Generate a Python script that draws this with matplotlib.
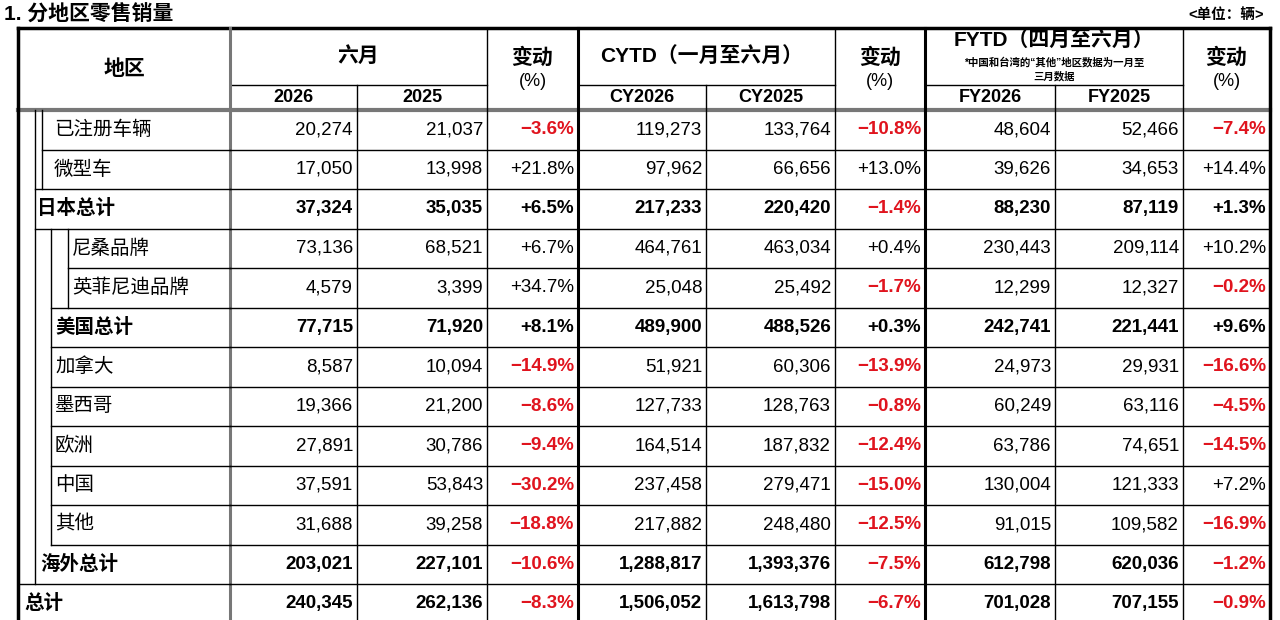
import matplotlib
matplotlib.use("Agg")
import matplotlib.pyplot as plt

plt.rcParams['font.family'] = ['Liberation Sans', 'Noto Sans CJK SC', 'DejaVu Sans']

regions = ["已注册车辆", "微型车", "日本总计", "尼桑品牌", "英菲尼迪品牌", "美国总计",
           "加拿大", "墨西哥", "欧洲", "中国", "其他", "海外总计", "总计"]
jun_2026 = [20274, 17050, 37324, 73136, 4579, 77715, 8587, 19366, 27891, 37591, 31688, 203021, 240345]
jun_2025 = [21037, 13998, 35035, 68521, 3399, 71920, 10094, 21200, 30786, 53843, 39258, 227101, 262136]
jun_chg = [-3.6, 21.8, 6.5, 6.7, 34.7, 8.1, -14.9, -8.6, -9.4, -30.2, -18.8, -10.6, -8.3]
cy_2026 = [119273, 97962, 217233, 464761, 25048, 489900, 51921, 127733, 164514, 237458, 217882, 1288817, 1506052]
cy_2025 = [133764, 66656, 220420, 463034, 25492, 488526, 60306, 128763, 187832, 279471, 248480, 1393376, 1613798]
cy_chg = [-10.8, 13.0, -1.4, 0.4, -1.7, 0.3, -13.9, -0.8, -12.4, -15.0, -12.5, -7.5, -6.7]
fy_2026 = [48604, 39626, 88230, 230443, 12299, 242741, 24973, 60249, 63786, 130004, 91015, 612798, 701028]
fy_2025 = [52466, 34653, 87119, 209114, 12327, 221441, 29931, 63116, 74651, 121333, 109582, 620036, 707155]
fy_chg = [-7.4, 14.4, 1.3, 10.2, -0.2, 9.6, -16.6, -4.5, -14.5, 7.2, -16.9, -1.2, -0.9]
bold_rows = {2, 5, 11, 12}
label_x = [54, 54, 37, 72, 72, 55, 55, 55, 55, 55, 55, 40, 24]

fig = plt.figure(figsize=(12.8, 6.2), dpi=100)
ax = fig.add_axes([0, 0, 1, 1])
ax.set_xlim(0, 1280)
ax.set_ylim(620, 0)
ax.axis('off')

cols = [18, 230, 357, 487, 578, 706, 835, 925, 1055, 1183, 1270]
top, mid, hbot = 28, 85, 110
row_h = 39.5
rows_y = [hbot + i * row_h for i in range(14)]

fs = 13.5
K = dict(color='black', lw=1.0)
ax.plot([cols[0], cols[-1]], [top, top], color='black', lw=2.5)
ax.plot([cols[0], cols[-1]], [hbot, hbot], color='#777777', lw=3)
for c0, c1 in [(cols[1], cols[3]), (cols[4], cols[6]), (cols[7], cols[9])]:
    ax.plot([c0, c1], [mid, mid], **K)
ax.plot([cols[0], cols[0]], [top, 620], color='black', lw=2.5)
ax.plot([cols[-1], cols[-1]], [top, 620], color='black', lw=2.5)
for c in cols[1:-1]:
    if c in (578, 925):
        ax.plot([c, c], [top, 620], color='black', lw=2.2)
    elif c == 230:
        ax.plot([c, c], [top, 620], color='#777777', lw=2.2)
    elif c in (487, 835, 1183):
        ax.plot([c, c], [top, 620], **K)
    else:
        ax.plot([c, c], [mid, 620], **K)

ax.plot([35, 35], [hbot, rows_y[12]], **K)
ax.plot([42, 42], [hbot, rows_y[2]], **K)
ax.plot([51, 51], [rows_y[3], rows_y[11]], **K)
ax.plot([68, 68], [rows_y[3], rows_y[5]], **K)
hstart = {1: 42, 2: 35, 3: 35, 4: 68, 5: 51, 6: 51, 7: 51, 8: 51, 9: 51, 10: 51, 11: 51, 12: 18}
for r, xs in hstart.items():
    ax.plot([xs, cols[1]], [rows_y[r], rows_y[r]], **K)
    ax.plot([cols[1], cols[-1]], [rows_y[r], rows_y[r]], **K)

ax.text(4, 14, "1. 分地区零售销量", fontsize=15, fontweight='bold', va='center', ha='left')
ax.text(1264, 15, "<单位：辆>", fontsize=10.5, fontweight='bold', va='center', ha='right')
hb = dict(fontsize=15, fontweight='bold', va='center', ha='center')
ax.text(124, 69, "地区", **hb)
ax.text(358, 56, "六月", **hb)
ax.text(702, 56, "CYTD（一月至六月）", **hb)
ax.text(1054, 40, "FYTD（四月至六月）", **hb)
ax.text(1054, 62, "*中国和台湾的“其他”地区数据为一月至", fontsize=7.5, fontweight='bold', va='center', ha='center')
ax.text(1054, 76, "三月数据", fontsize=7.5, fontweight='bold', va='center', ha='center')
for c0, c1 in [(487, 578), (835, 925), (1183, 1270)]:
    ax.text((c0 + c1) / 2, 58, "变动", **hb)
    ax.text((c0 + c1) / 2, 82, "(%)", fontsize=13, va='center', ha='center')
for (c0, c1), lab in zip([(230, 357), (357, 487), (578, 706), (706, 835), (925, 1055), (1055, 1183)],
                         ["2026", "2025", "CY2026", "CY2025", "FY2026", "FY2025"]):
    ax.text((c0 + c1) / 2, 98, lab, fontsize=13, fontweight='bold', va='center', ha='center')

def pct(v):
    return f"{v:+.1f}%".replace('-', '−')

for i in range(13):
    yc = (rows_y[i] + rows_y[i + 1]) / 2
    w = 'bold' if i in bold_rows else 'normal'
    ax.text(label_x[i], yc, regions[i], fontsize=14, fontweight=w, va='center', ha='left')
    for c1, vals in [(357, jun_2026), (487, jun_2025), (706, cy_2026), (835, cy_2025), (1055, fy_2026), (1183, fy_2025)]:
        ax.text(c1 - 4, yc, f"{vals[i]:,}", fontsize=fs, fontweight=w, va='center', ha='right')
    for c1, vals in [(578, jun_chg), (925, cy_chg), (1270, fy_chg)]:
        v = vals[i]
        neg = v < 0
        ax.text(c1 - 4, yc, pct(v), fontsize=fs, fontweight='bold' if (neg or i in bold_rows) else 'normal',
                color='#e0141e' if neg else 'black', va='center', ha='right')

fig.savefig("out.png", dpi=100, facecolor='white')
